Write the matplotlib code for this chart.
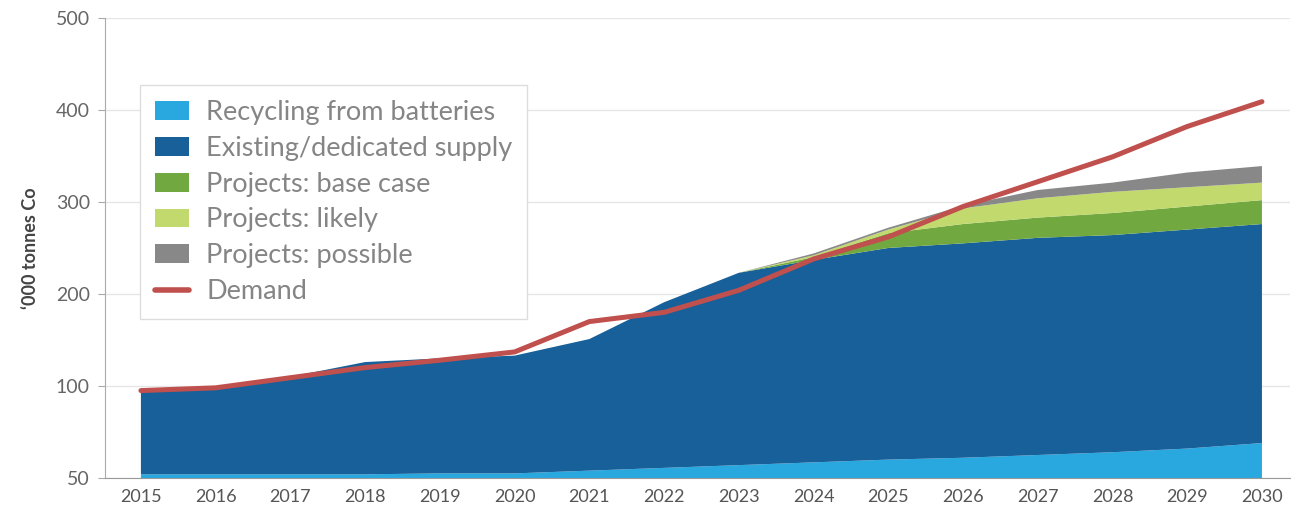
import numpy as np
import matplotlib
matplotlib.use("Agg")
import matplotlib.pyplot as plt
from matplotlib.patches import Patch
from matplotlib.lines import Line2D

plt.rcParams["font.family"] = ["Lato", "DejaVu Sans"]

years = np.arange(2015, 2031)
recycling = [4, 4, 4, 4, 5, 5, 8, 11, 14, 17, 20, 22, 25, 28, 32, 38]
existing = [91, 93, 106, 122, 125, 128, 143, 180, 209, 220, 230, 233, 236, 236, 238, 238]
base_case = [0, 0, 0, 0, 0, 0, 0, 0, 0, 3, 16, 21, 22, 24, 25, 26]
likely = [0, 0, 0, 0, 0, 0, 0, 0, 0, 2, 4, 17, 21, 23, 21, 19]
possible = [0, 0, 0, 0, 0, 0, 0, 0, 0, 2, 2, 3, 9, 10, 16, 18]
demand = [95, 98, 109, 120, 128, 137, 170, 180, 204, 238, 262, 295, 322, 349, 382, 409]

labels = ["Recycling from batteries", "Existing/dedicated supply",
          "Projects: base case", "Projects: likely", "Projects: possible"]
colors = ["#29a8e0", "#17609a", "#72a840", "#c2d96e", "#888888"]
demand_color = "#c0504d"

y_ticks = [0, 100, 200, 300, 400, 500]
y_tick_labels = ["50", "100", "200", "300", "400", "500"]

fig = plt.figure(figsize=(13, 5.12), dpi=100)
ax = fig.add_axes([0.0808, 0.0664, 0.9112, 0.8986])

ax.stackplot(years, recycling, existing, base_case, likely, possible,
             colors=colors, linewidth=0)
ax.plot(years, demand, color=demand_color, lw=3.6, solid_capstyle="round",
        zorder=5)

ax.set_xlim(2015 - 0.48, 2030.37)
ax.set_ylim(0, 500)
ax.set_xticks(years)
ax.set_xticklabels([str(y) for y in years], fontsize=13, color="#555555")
ax.set_yticks(y_ticks)
ax.set_yticklabels(y_tick_labels, fontsize=14, color="#666666")
ax.tick_params(axis="x", length=0, pad=8)
ax.tick_params(axis="y", length=5, color="#aaaaaa", pad=6)
ax.grid(axis="y", color="#e6e6e6", lw=1)
ax.set_axisbelow(True)

for s in ["top", "right"]:
    ax.spines[s].set_visible(False)
ax.spines["left"].set_color("#aaaaaa")
ax.spines["bottom"].set_color("#999999")

ax.set_ylabel("‘000 tonnes Co", fontsize=13, fontweight="bold",
              color="#444444", labelpad=12)

handles = [Patch(facecolor=c, edgecolor="none") for c in colors]
handles.append(Line2D([0], [0], color=demand_color, lw=4,
                      solid_capstyle="round"))
leg = ax.legend(handles, labels + ["Demand"], loc="upper left",
                bbox_to_anchor=(0.0295, 0.854), borderaxespad=0,
                fancybox=False, edgecolor="#dddddd", framealpha=1,
                prop={"size": 19.5},
                handlelength=1.25, handleheight=0.7, labelspacing=0.4,
                handletextpad=0.65, borderpad=0.55)
for t in leg.get_texts():
    t.set_color("#858585")

fig.savefig("out.png", dpi=100)
